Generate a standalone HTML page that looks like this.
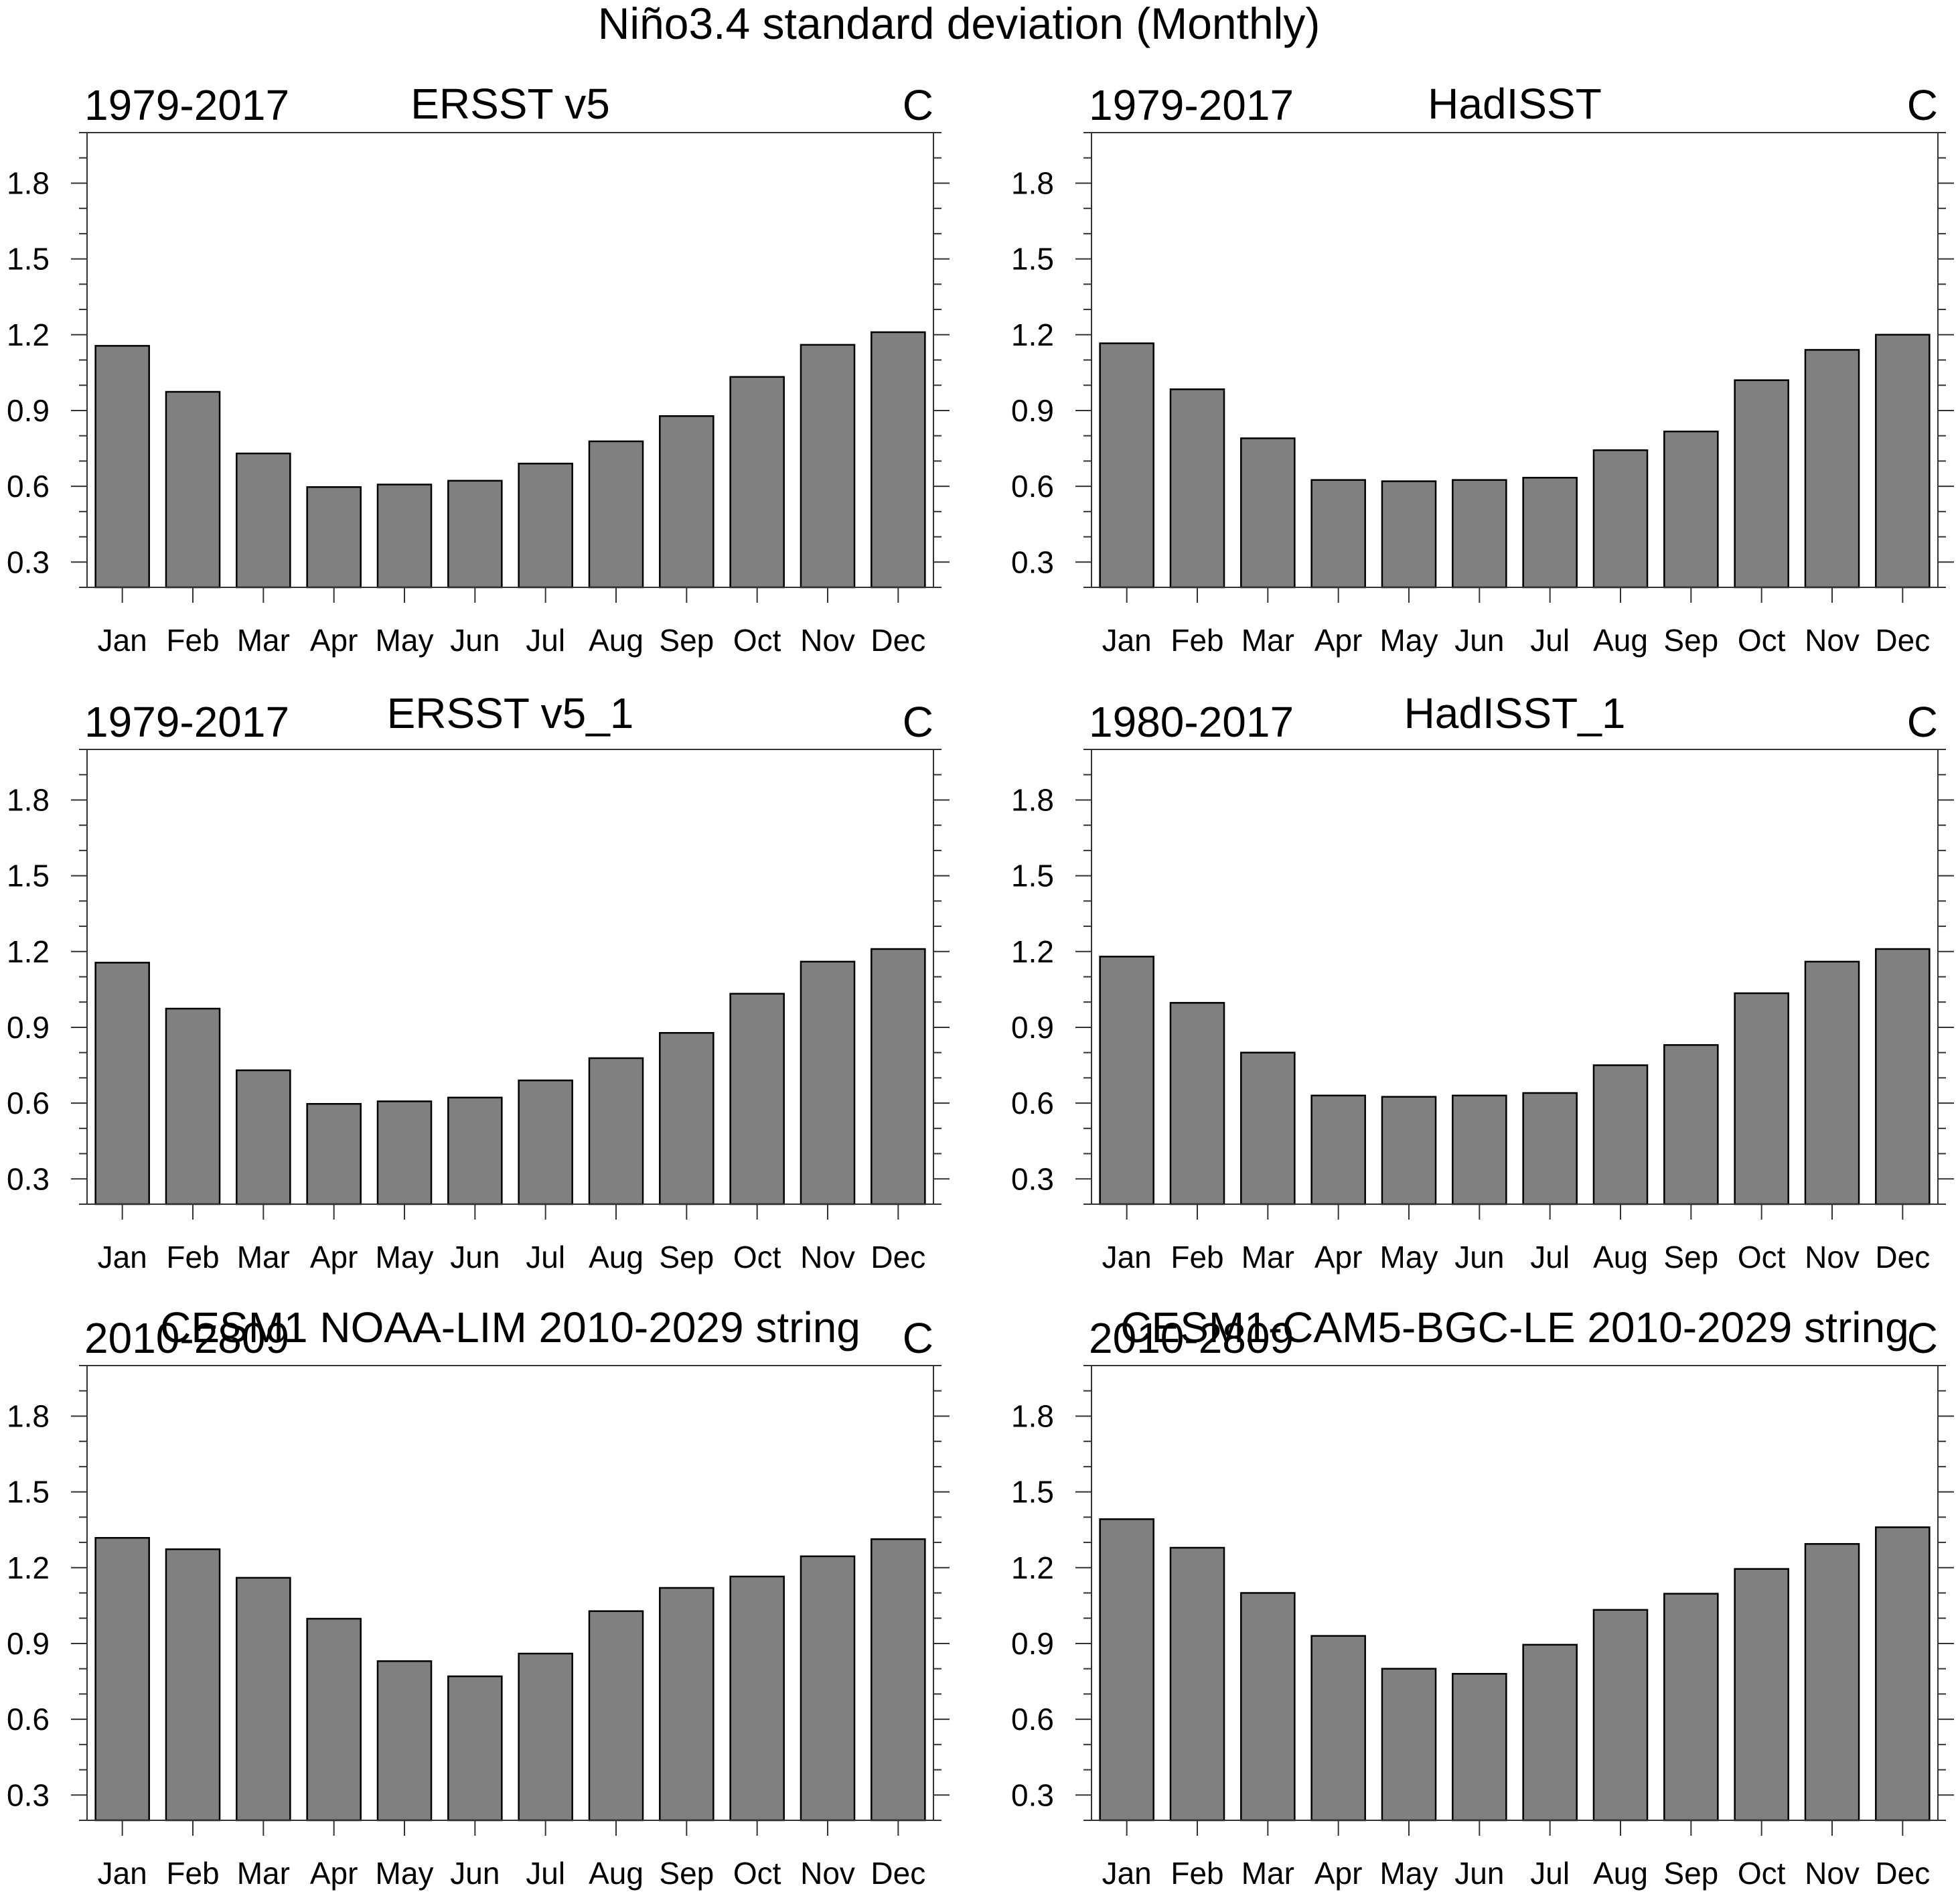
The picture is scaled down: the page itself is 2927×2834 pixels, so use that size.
<!DOCTYPE html>
<html><head><meta charset="utf-8"><style>
html,body{margin:0;padding:0;background:#fff}
svg{display:block}
text{font-family:"Liberation Sans",Arial,sans-serif;fill:#000}
</style></head><body>
<svg id="fig" width="2927" height="2834" viewBox="0 0 2927 2834" xmlns="http://www.w3.org/2000/svg">
<text x="1432" y="58" font-size="66" text-anchor="middle">Niño3.4 standard deviation (Monthly)</text>
</svg>
<script>
const months = ["Jan","Feb","Mar","Apr","May","Jun","Jul","Aug","Sep","Oct","Nov","Dec"];
const yTicks = [0.3,0.6,0.9,1.2,1.5,1.8];
const yTickLabels = ["0.3","0.6","0.9","1.2","1.5","1.8"];
const panelLeftTitles = ["1979-2017","1979-2017","1979-2017","1980-2017","2010-2809","2010-2809"];
const panelCenterTitles = ["ERSST v5","HadISST","ERSST v5_1","HadISST_1","CESM1 NOAA-LIM 2010-2029 string","CESM1-CAM5-BGC-LE 2010-2029 string"];
const ersstV5 = [1.156,0.974,0.730,0.597,0.607,0.622,0.690,0.778,0.878,1.033,1.160,1.210];
const hadisst = [1.166,0.984,0.790,0.625,0.620,0.625,0.634,0.743,0.817,1.020,1.140,1.200];
const ersstV5_1 = [1.156,0.974,0.730,0.597,0.607,0.622,0.690,0.778,0.878,1.033,1.160,1.210];
const hadisst_1 = [1.180,0.997,0.800,0.630,0.625,0.630,0.640,0.750,0.830,1.035,1.160,1.210];
const cesmNoaaLim = [1.318,1.273,1.160,0.998,0.830,0.770,0.860,1.028,1.120,1.165,1.245,1.313];
const cesmCam5 = [1.392,1.279,1.100,0.930,0.800,0.780,0.895,1.033,1.097,1.195,1.294,1.360];
const seriesList = [ersstV5,hadisst,ersstV5_1,hadisst_1,cesmNoaaLim,cesmCam5];
const yMin = 0.2, yMax = 2.0;

const NS="http://www.w3.org/2000/svg";
const svg=document.getElementById('fig');
function mk(tag,attrs,parent){const e=document.createElementNS(NS,tag);for(const k in attrs)e.setAttribute(k,attrs[k]);parent.appendChild(e);return e;}
const colX=[130,1630], rowY=[198,1119,2039], W=1264, H=679;
const centerOff=[0,0,-11,-11,-14,-14];
seriesList.forEach((vals,p)=>{
  const L=colX[p%2], T=rowY[Math.floor(p/2)], R=L+W, B=T+H;
  const g=mk('g',{},svg);
  
  
  const ys=v=>B-(v-yMin)/(yMax-yMin)*H;
  const xs=i=>L+(i+0.5)/12*W;
  const bw=W/12*0.76;
  vals.forEach((v,i)=>{
    const r=mk('rect',{x:xs(i)-bw/2,y:ys(v),width:bw,height:B-ys(v),fill:'#808080',stroke:'#000','stroke-width':2.5},g);
    
    
  });
  const f=mk('rect',{x:L,y:T,width:W,height:H,fill:'none',stroke:'#333','stroke-width':2},g);
  
  
  for(let k=0;k<=18;k++){
    const v=yMin+k*0.1; if(v>yMax+1e-9) break;
    const y=ys(v);
    const major=yTicks.some(t=>Math.abs(t-v)<1e-6);
    const len=major?24:12;
    mk('line',{x1:L-len,y1:y,x2:L,y2:y,stroke:'#333','stroke-width':2},g);
    mk('line',{x1:R,y1:y,x2:R+len,y2:y,stroke:'#333','stroke-width':2},g);
  }
  yTicks.forEach((t,j)=>{
    const tx=mk('text',{x:L-56,y:ys(t)+16,'font-size':46,'text-anchor':'end'},g);
    tx.textContent=yTickLabels[j];
    
    
  });
  months.forEach((m,i)=>{
    mk('line',{x1:xs(i),y1:B,x2:xs(i),y2:B+23,stroke:'#333','stroke-width':2},g);
    const tx=mk('text',{x:xs(i),y:B+95,'font-size':46,'text-anchor':'middle'},g);
    tx.textContent=m;
    
    
  });
  const lt=mk('text',{x:L-4,y:T-19,'font-size':64},g);
  lt.textContent=panelLeftTitles[p];
  
  
  const ct=mk('text',{x:L+W/2,y:T-21+centerOff[p],'font-size':64,'text-anchor':'middle'},g);
  ct.textContent=panelCenterTitles[p];
  
  
  const rt=mk('text',{x:R,y:T-19,'font-size':64,'text-anchor':'end'},g);
  rt.textContent='C';
  
  
});
</script>
</body></html>
